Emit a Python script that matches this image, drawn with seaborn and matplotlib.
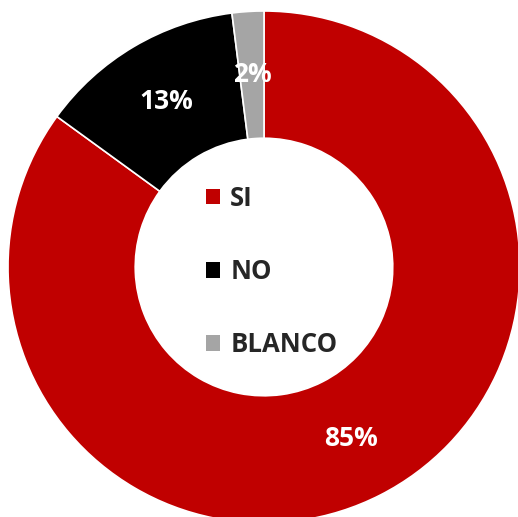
import matplotlib
matplotlib.use("Agg")
import matplotlib.pyplot as plt
import seaborn as sns
from matplotlib.patches import Patch

categories = ["SI", "NO", "BLANCO"]
values = [85, 13, 2]
colors = ["#C00000", "#000000", "#A5A5A5"]

sns.set_theme(style="white")
plt.rcParams["font.family"] = ["Open Sans", "DejaVu Sans"]

fig = plt.figure(figsize=(5.18, 5.17), dpi=100)
W, H = 518, 517
cx, cy, R = 264, 267, 256
ax = fig.add_axes([(cx - R) / W, (H - (cy + R)) / H, 2 * R / W, 2 * R / H])

wedges, texts, autotexts = ax.pie(
    values,
    colors=colors,
    startangle=90,
    counterclock=False,
    radius=1,
    autopct="%1.0f%%",
    pctdistance=0.752,
    wedgeprops=dict(width=0.497, edgecolor="white", linewidth=1.2),
    textprops=dict(color="white", fontsize=19, fontweight="bold"),
)
ax.set_xlim(-1, 1)
ax.set_ylim(-1, 1)
ax.set_aspect("equal")
ax.axis("off")

handles = [Patch(facecolor=c, edgecolor="none") for c in colors]
fs = 18.5
leg = ax.legend(
    handles, categories,
    loc="center left",
    bbox_to_anchor=((206 - (cx - R)) / (2 * R), ((cy + R) - 271.5) / (2 * R)),
    frameon=False,
    borderaxespad=0, borderpad=0,
    handlelength=0.545, handleheight=0.545,
    handletextpad=0.4,
    labelspacing=1.8,
    prop=dict(family=["Open Sans", "DejaVu Sans"], weight="bold", size=fs),
)

fig.savefig("out.png", dpi=100, facecolor="white")
